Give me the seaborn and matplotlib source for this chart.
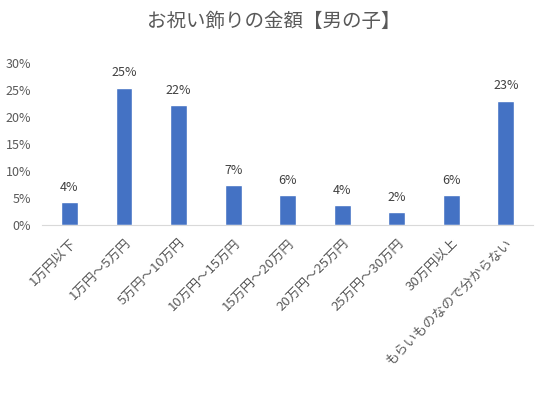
import matplotlib
matplotlib.use("Agg")
import matplotlib.pyplot as plt
import pandas as pd
import seaborn as sns
from matplotlib.ticker import PercentFormatter

categories = [
    "1万円以下",
    "1万円～5万円",
    "5万円～10万円",
    "10万円～15万円",
    "15万円～20万円",
    "20万円～25万円",
    "25万円～30万円",
    "30万円以上",
    "もらいものなので分からない",
]
shares = [0.043, 0.254, 0.222, 0.074, 0.056, 0.037, 0.024, 0.056, 0.230]
title = "お祝い飾りの金額【男の子】"

sns.set_style("white")
plt.rcParams["font.family"] = ["Noto Sans CJK JP", "DejaVu Sans"]
text_color = "#595959"

df = pd.DataFrame({"category": categories, "share": shares})

fig = plt.figure(figsize=(5.48, 3.93), dpi=100)
ax = fig.add_axes([0.077, 0.427, 0.896, 0.413])
sns.barplot(data=df, x="category", y="share", color="#4472C4", width=0.31,
            saturation=1, ax=ax)

for c in ax.containers:
    ax.bar_label(c, labels=[f"{v:.0%}" for v in df["share"]], padding=6,
                 fontsize=9, color="#404040")

ax.set_ylim(0, 0.30)
ax.set_yticks([0, 0.05, 0.10, 0.15, 0.20, 0.25, 0.30])
ax.yaxis.set_major_formatter(PercentFormatter(1.0, decimals=0))
ax.set_xlabel("")
ax.set_ylabel("")
for s in ["top", "right", "left"]:
    ax.spines[s].set_visible(False)
ax.spines["bottom"].set_color("#D9D9D9")
ax.tick_params(axis="y", labelsize=9, colors=text_color, length=0, pad=8)
ax.tick_params(axis="x", labelsize=9.5, colors=text_color, length=0, pad=8)
plt.setp(ax.get_xticklabels(), rotation=45, ha="right", rotation_mode="anchor")

fig.text(0.5, 0.945, title, ha="center", va="center", fontsize=14, color=text_color)

fig.savefig("out.png", dpi=100, facecolor="white")
